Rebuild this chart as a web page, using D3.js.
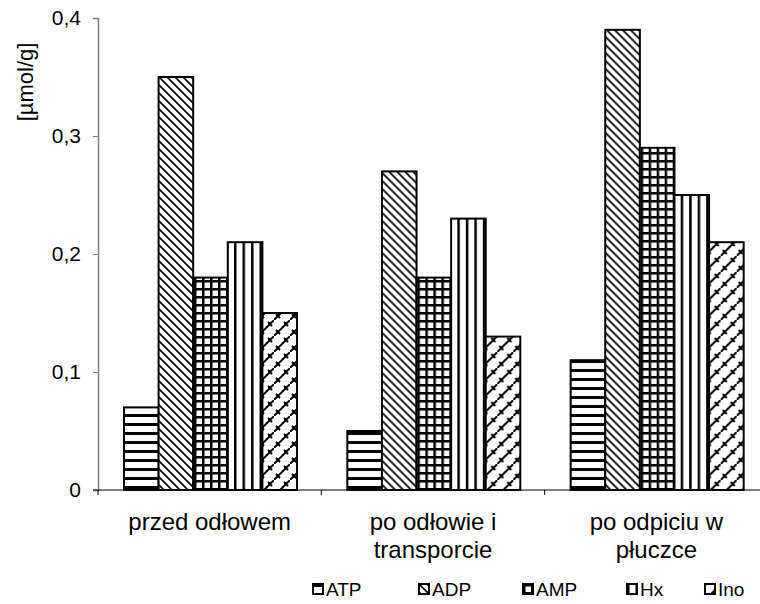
<!DOCTYPE html>
<html>
<head>
<meta charset="utf-8">
<script src="https://cdn.jsdelivr.net/npm/d3@7"></script>
<style>
  body { margin: 0; background: #fff; }
  text { font-family: "Liberation Sans", Arial, sans-serif; fill: #000; }
</style>
</head>
<body>
<div id="chart"></div>
<script>
// data
var categories = ["przed odłowem", "po odłowie i transporcie", "po odpiciu w płuczce"];
var categoryLines = [["przed odłowem"], ["po odłowie i", "transporcie"], ["po odpiciu w", "płuczce"]];
var series = ["ATP", "ADP", "AMP", "Hx", "Ino"];
var ATP = [0.07, 0.05, 0.11];
var ADP = [0.35, 0.27, 0.39];
var AMP = [0.18, 0.18, 0.29];
var Hx = [0.21, 0.23, 0.25];
var Ino = [0.15, 0.13, 0.21];
var yTicks = [0, 0.1, 0.2, 0.3, 0.4];
var values = { ATP: ATP, ADP: ADP, AMP: AMP, Hx: Hx, Ino: Ino };

var width = 760, height = 604;
var margin = { top: 18, left: 98, bottom: 114 };

var svg = d3.select("#chart").append("svg")
    .attr("width", width)
    .attr("height", height);

// fill patterns
var defs = svg.append("defs");
function pattern(id, w, h) {
    return defs.append("pattern")
        .attr("id", id)
        .attr("patternUnits", "userSpaceOnUse")
        .attr("width", w)
        .attr("height", h);
}
var p;
p = pattern("p-ATP", 9, 9);
p.append("rect").attr("width", 9).attr("height", 9).attr("fill", "#fff");
p.append("rect").attr("y", 0).attr("width", 9).attr("height", 3).attr("fill", "#000");

p = pattern("p-ADP", 8, 8);
p.append("rect").attr("width", 8).attr("height", 8).attr("fill", "#fff");
p.append("path").attr("d", "M-1,-1L9,9M-1,7L1,9M7,-1L9,1").attr("stroke", "#000")
    .attr("stroke-width", 1.6);

p = pattern("p-AMP", 8, 8);
p.append("rect").attr("width", 8).attr("height", 8).attr("fill", "#fff");
p.append("rect").attr("width", 8).attr("height", 2.5).attr("fill", "#000");
p.append("rect").attr("width", 2.5).attr("height", 8).attr("fill", "#000");

p = pattern("p-Hx", 8.5, 8);
p.append("rect").attr("width", 8.5).attr("height", 8).attr("fill", "#fff");
p.append("rect").attr("width", 2.5).attr("height", 8).attr("fill", "#000");

p = pattern("p-Ino", 16, 16);
p.append("rect").attr("width", 16).attr("height", 16).attr("fill", "#fff");
p.append("path").attr("d", "M-1,17L17,-1M2,10L6,14M10,2L14,6")
    .attr("stroke", "#000").attr("stroke-width", 2).attr("fill", "none");

// scales
var y = d3.scaleLinear().domain([0, 0.4]).range([height - margin.bottom, margin.top]);
var x0 = d3.scaleBand().domain(categories).range([margin.left, 768]);
var x1 = d3.scaleBand().domain(series).range([26, 26 + 173]);

// bars
var group = svg.selectAll("g.cat")
    .data(categories)
    .enter().append("g")
    .attr("class", "cat")
    .attr("transform", function(d) { return "translate(" + x0(d) + ",0)"; });

group.selectAll("rect")
    .data(function(d, i) {
        return series.map(function(s) { return { key: s, value: values[s][i] }; });
    })
    .enter().append("rect")
    .attr("x", function(d) { return x1(d.key); })
    .attr("y", function(d) { return y(d.value); })
    .attr("width", x1.bandwidth())
    .attr("height", function(d) { return y(0) - y(d.value); })
    .attr("fill", function(d) { return "url(#p-" + d.key + ")"; })
    .attr("stroke", "#000")
    .attr("stroke-width", 2);

// y axis
var yAxis = svg.append("g")
    .attr("transform", "translate(" + margin.left + ",0)")
    .call(d3.axisLeft(y).tickValues(yTicks).tickSize(5).tickPadding(12)
        .tickFormat(function(d) { return d === 0 ? "0" : d3.format(".1f")(d).replace(".", ","); }));
yAxis.select(".domain").attr("stroke", "#808080").attr("stroke-width", 1.5);
yAxis.selectAll(".tick line").attr("stroke", "#808080");
yAxis.selectAll(".tick text")
    .style("font-family", "Liberation Sans, Arial, sans-serif")
    .style("font-size", "21px")
    .attr("fill", "#000");

// x axis line and separators
var bounds = categories.map(function(c) { return x0(c); });
svg.append("line")
    .attr("x1", margin.left - 5).attr("x2", width)
    .attr("y1", y(0)).attr("y2", y(0))
    .attr("stroke", "#000").attr("stroke-width", 1);
svg.selectAll("line.sep")
    .data(bounds)
    .enter().append("line")
    .attr("class", "sep")
    .attr("x1", function(d) { return d; }).attr("x2", function(d) { return d; })
    .attr("y1", y(0)).attr("y2", y(0) + 5)
    .attr("stroke", "#000");

// category labels
svg.selectAll("text.cat")
    .data(categories)
    .enter().append("text")
    .attr("class", "cat")
    .attr("text-anchor", "middle")
    .style("font-size", "24px")
    .attr("transform", function(d) { return "translate(" + (x0(d) + x0.bandwidth() / 2) + ",530)"; })
    .selectAll("tspan")
    .data(function(d, i) { return categoryLines[i]; })
    .enter().append("tspan")
    .attr("x", 0)
    .attr("dy", function(d, i) { return i === 0 ? 0 : 28; })
    .text(function(d) { return d; });

// y label
svg.append("text")
    .attr("transform", "translate(33,82) rotate(-90)")
    .attr("text-anchor", "middle")
    .style("font-size", "22px")
    .text("[µmol/g]");

// legend
var legendX = [313, 419, 523, 627, 705];
var legend = svg.selectAll("g.leg")
    .data(series)
    .enter().append("g")
    .attr("class", "leg")
    .attr("transform", function(d, i) { return "translate(" + legendX[i] + ",584)"; });
legend.append("rect")
    .attr("width", 10).attr("height", 10)
    .attr("fill", function(d) { return "url(#p-" + d + ")"; })
    .attr("stroke", "#000").attr("stroke-width", 2);
legend.append("text")
    .attr("x", 13).attr("y", 12)
    .style("font-size", "19px")
    .text(function(d) { return d; });
</script>
</body>
</html>
